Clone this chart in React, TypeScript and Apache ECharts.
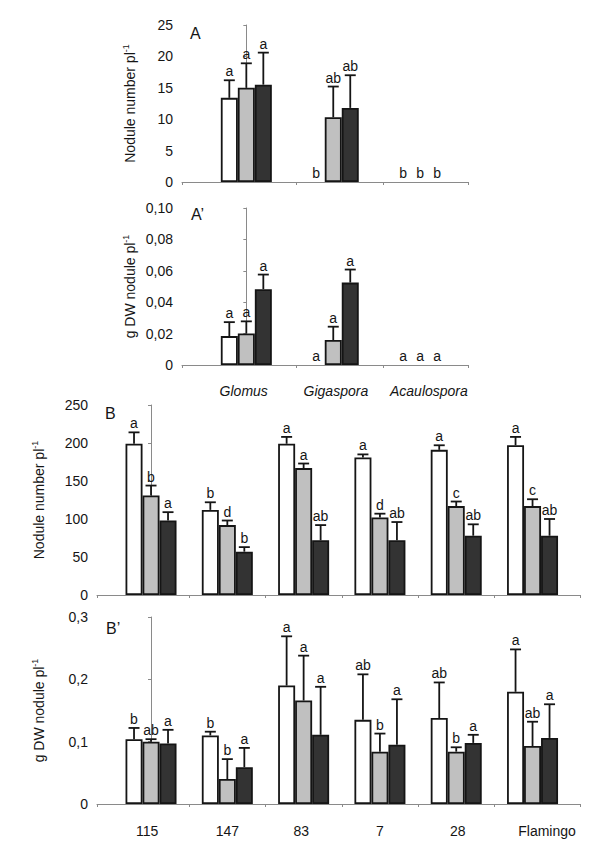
import { useEffect, useRef } from "react";
import * as echarts from "echarts";

// ---------- Data ----------
const fungi = ["Glomus", "Gigaspora", "Acaulospora"];
const cultivars = ["115", "147", "83", "7", "28", "Flamingo"];
const treatments = ["Treatment 1", "Treatment 2", "Treatment 3"];

// Panel A: nodule number per plant (by AM fungus)
const aWhite = [13.4, 0, 0];
const aGray = [15.0, 10.3, 0];
const aDark = [15.5, 11.8, 0];
const aWhiteErr = [2.8, 0, 0];
const aGrayErr = [3.9, 4.9, 0];
const aDarkErr = [5.1, 5.2, 0];
const aWhiteSig = ["a", "b", "b"];
const aGraySig = ["a", "ab", "b"];
const aDarkSig = ["a", "ab", "b"];

// Panel A': g DW nodule per plant (by AM fungus)
const apWhite = [0.0184, 0, 0];
const apGray = [0.0201, 0.0159, 0];
const apDark = [0.0483, 0.0525, 0];
const apWhiteErr = [0.0089, 0, 0];
const apGrayErr = [0.0077, 0.0085, 0];
const apDarkErr = [0.0093, 0.0083, 0];
const apWhiteSig = ["a", "a", "a"];
const apGraySig = ["a", "a", "a"];
const apDarkSig = ["a", "a", "a"];

// Panel B: nodule number per plant (by cultivar)
const bWhite = [199, 112, 199, 181, 191, 197];
const bGray = [131, 92, 167, 102, 117, 117];
const bDark = [98, 57, 72, 72, 78, 78];
const bWhiteErr = [15, 10, 9, 4, 6, 11];
const bGrayErr = [13, 6, 6, 5, 6, 9];
const bDarkErr = [11, 6, 20, 24, 15, 22];
const bWhiteSig = ["a", "b", "a", "a", "a", "a"];
const bGraySig = ["b", "d", "a", "d", "c", "c"];
const bDarkSig = ["a", "b", "ab", "ab", "ab", "ab"];

// Panel B': g DW nodule per plant (by cultivar)
const bpWhite = [0.104, 0.11, 0.19, 0.135, 0.138, 0.18];
const bpGray = [0.1, 0.04, 0.166, 0.084, 0.084, 0.093];
const bpDark = [0.097, 0.059, 0.111, 0.095, 0.098, 0.106];
const bpWhiteErr = [0.018, 0.006, 0.079, 0.073, 0.057, 0.068];
const bpGrayErr = [0.004, 0.032, 0.072, 0.029, 0.007, 0.039];
const bpDarkErr = [0.022, 0.031, 0.077, 0.073, 0.013, 0.054];
const bpWhiteSig = ["b", "b", "a", "ab", "ab", "a"];
const bpGraySig = ["ab", "b", "a", "b", "b", "ab"];
const bpDarkSig = ["a", "a", "a", "a", "a", "a"];

// ---------- Styles ----------
const FONT = "'Liberation Sans', Arial, Helvetica, sans-serif";
const TEXT = "#151515";
const AXIS = "#8a8a8a";
const EDGE = "#151515";
const FILLS = ["#ffffff", "#c0c0c0", "#333333"];
const BAR_W = 17;

type Panel = {
  values: number[][];
  errs: number[][];
  sigs: string[][];
};

const panels: Panel[] = [
  { values: [aWhite, aGray, aDark], errs: [aWhiteErr, aGrayErr, aDarkErr], sigs: [aWhiteSig, aGraySig, aDarkSig] },
  { values: [apWhite, apGray, apDark], errs: [apWhiteErr, apGrayErr, apDarkErr], sigs: [apWhiteSig, apGraySig, apDarkSig] },
  { values: [bWhite, bGray, bDark], errs: [bWhiteErr, bGrayErr, bDarkErr], sigs: [bWhiteSig, bGraySig, bDarkSig] },
  { values: [bpWhite, bpGray, bpDark], errs: [bpWhiteErr, bpGrayErr, bpDarkErr], sigs: [bpWhiteSig, bpGraySig, bpDarkSig] },
];

function buildOption() {
  const grids = [
    { left: 182, right: 132, top: 25, height: 157 },
    { left: 182, right: 132, top: 208, height: 157 },
    { left: 97, right: 20, top: 405, height: 190 },
    { left: 97, right: 20, top: 617, height: 187 },
  ];

  const aMin = -0.74, aMax = 2.55;
  const bMin = -0.708, bMax = 5.622;

  // label anchor positions along the category scale (slight placement offsets as in the figure)
  const fungiLabelPos = [-0.03, 1.03, 2.1];
  const cultivarLabelPos = [-0.05, 1.0, 1.97, 3.0, 4.02, 5.19];

  const xAxisCommon = (
    i: number,
    min: number,
    max: number,
    ticks: number[],
    labels: string[] | null,
    labelPos: number[] | null,
    italic: boolean
  ) => ({
    type: "value",
    gridIndex: i,
    min,
    max,
    axisLine: { show: true, lineStyle: { color: AXIS, width: 1 } },
    axisTick: { show: true, length: 3, customValues: ticks, lineStyle: { color: AXIS } },
    splitLine: { show: false },
    axisLabel:
      labels && labelPos
        ? {
            show: true,
            customValues: labelPos,
            formatter: (v: number) => {
              const k = labelPos.findIndex((p) => Math.abs(p - v) < 1e-6);
              return k >= 0 ? labels[k] : "";
            },
            margin: italic ? 19 : 20,
            fontFamily: FONT,
            fontSize: 14,
            fontStyle: italic ? "italic" : "normal",
            color: TEXT,
          }
        : { show: false },
  });

  const xAxis = [
    xAxisCommon(0, aMin, aMax, [aMin, 0.575, 1.575, aMax], null, null, false),
    xAxisCommon(1, aMin, aMax, [aMin, 0.575, 1.575, aMax], fungi, fungiLabelPos, true),
    xAxisCommon(2, bMin, bMax, [bMin, 0.5, 1.5, 2.5, 3.5, 4.5, bMax], null, null, false),
    xAxisCommon(3, bMin, bMax, [bMin, 0.5, 1.5, 2.5, 3.5, 4.5, bMax], cultivars, cultivarLabelPos, false),
  ];

  const nameRich = {
    sup: { fontSize: 9, fontFamily: FONT, color: TEXT, verticalAlign: "top", padding: [0, 0, 8, 0] },
  };

  const yAxisCommon = (i: number, max: number, interval: number, fmt: (v: number) => string, name: string, gap: number) => ({
    type: "value",
    gridIndex: i,
    min: 0,
    max,
    interval,
    name,
    nameLocation: "middle",
    nameGap: gap,
    nameTextStyle: { fontFamily: FONT, fontSize: 14, color: TEXT, rich: nameRich },
    axisLine: { show: true, lineStyle: { color: AXIS, width: 1 } },
    axisTick: { show: true, length: 3, lineStyle: { color: AXIS } },
    splitLine: { show: false },
    axisLabel: { fontFamily: FONT, fontSize: 14, color: TEXT, margin: 9, formatter: fmt },
  });

  const comma = (d: number) => (v: number) => (Math.abs(v) < 1e-9 ? "0" : v.toFixed(d).replace(".", ","));

  const yAxis = [
    yAxisCommon(0, 25, 5, (v) => String(Math.round(v)), "Nodule number pl{sup|-1}", 44),
    yAxisCommon(1, 0.1, 0.02, comma(2), "g DW nodule pl{sup|-1}", 44),
    yAxisCommon(2, 250, 50, (v) => String(Math.round(v)), "Nodule number pl{sup|-1}", 50),
    yAxisCommon(3, 0.3, 0.1, comma(1), "g DW nodule pl{sup|-1}", 50),
  ];

  const series: any[] = [];
  panels.forEach((p, i) => {
    p.values.forEach((vals, s) => {
      series.push({
        type: "bar",
        name: treatments[s],
        xAxisIndex: i,
        yAxisIndex: i,
        barWidth: BAR_W,
        barGap: "0%",
        itemStyle: { color: FILLS[s], borderColor: EDGE, borderWidth: 1.8 },
        data: vals.map((v, k) => [k, v]).filter((d) => d[1] > 0),
      });
    });
    p.values.forEach((vals, s) => {
      const sigs = p.sigs[s];
      const errs = p.errs[s];
      series.push({
        type: "custom",
        xAxisIndex: i,
        yAxisIndex: i,
        z: 5,
        data: vals.map((v, k) => [k, v, errs[k]]),
        renderItem: (params: any, api: any) => {
          const k = api.value(0);
          const v = api.value(1);
          const e = api.value(2);
          const base = api.coord([k, v]);
          const top = api.coord([k, v + e]);
          const cx = base[0] + (s - 1) * BAR_W;
          const children: any[] = [];
          if (e > 0) {
            children.push({
              type: "line",
              shape: { x1: cx, y1: base[1], x2: cx, y2: top[1] },
              style: { stroke: EDGE, lineWidth: 1.8 },
            });
            children.push({
              type: "line",
              shape: { x1: cx - 5.5, y1: top[1], x2: cx + 5.5, y2: top[1] },
              style: { stroke: EDGE, lineWidth: 1.8 },
            });
          }
          children.push({
            type: "text",
            style: {
              text: sigs[params.dataIndex],
              x: cx,
              y: top[1] - 2,
              align: "center",
              verticalAlign: "bottom",
              fill: TEXT,
              font: `14px ${FONT}`,
            },
          });
          return { type: "group", children };
        },
      });
    });
  });

  const panelLabel = (text: string, left: number, top: number) => ({
    type: "text",
    left,
    top,
    style: { text, font: `16px ${FONT}`, fill: TEXT },
  });

  return {
    animation: false,
    backgroundColor: "#ffffff",
    grid: grids,
    xAxis,
    yAxis,
    series,
    graphic: [
      panelLabel("A", 190, 25),
      panelLabel("A\u2019", 191, 206),
      panelLabel("B", 105, 405),
      panelLabel("B\u2019", 106, 620),
    ],
  };
}

export default function App() {
  const ref = useRef<HTMLDivElement>(null);
  useEffect(() => {
    if (!ref.current) return;
    const chart = echarts.init(ref.current, undefined, { renderer: "svg" });
    chart.setOption(buildOption() as any);
    return () => chart.dispose();
  }, []);
  return (
    <div
      ref={ref}
      style={{ position: "fixed", left: 0, top: 0, width: 600, height: 861, background: "#fff" }}
    />
  );
}
